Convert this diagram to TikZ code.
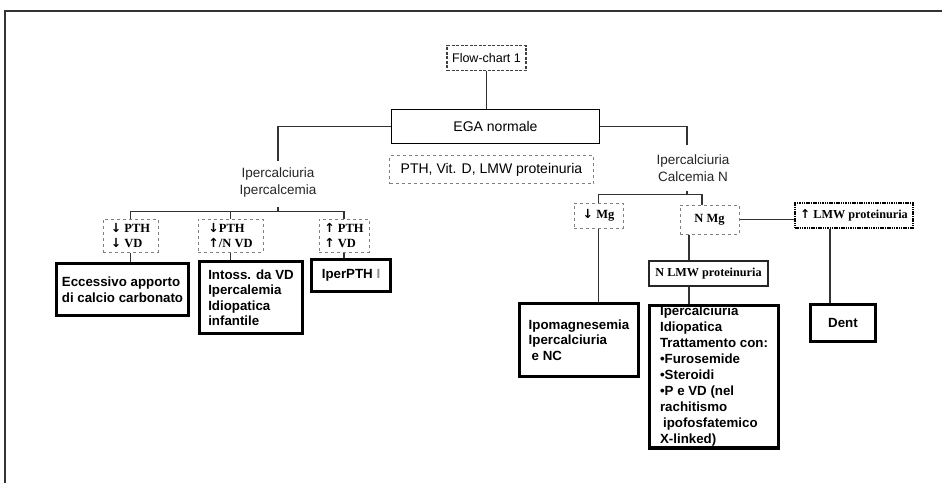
\documentclass[tikz,border=0pt]{standalone}
\usepackage{fontspec}
\setmainfont{Liberation Sans}
\newfontfamily\serifbf{Liberation Serif}
\newfontfamily\arrf{DejaVu Sans}
\newcommand{\dn}{{\arrf\bfseries ↓}}
\newcommand{\upa}{{\arrf\bfseries ↑}}
\begin{document}
\begin{tikzpicture}[x=1pt,y=-1pt,
 conn/.style={draw=black!80,line width=1.3pt},
 lbl/.style={font=\fontsize{13.5}{17}\selectfont,text=black!85,align=center,inner sep=0pt},
 bbox/.style={draw=black,line width=3.6pt,font=\bfseries\fontsize{13.3}{15.5}\selectfont,align=left,inner sep=3pt},
 sbox/.style={draw=black!50,dashed,line width=1pt,font=\serifbf\bfseries\fontsize{12.5}{14.5}\selectfont,align=left,inner sep=1.5pt},
]
\useasboundingbox (0,0) rectangle (942,483);
\fill[white] (0,0) rectangle (942,483);
% frame
\draw[line width=1.3pt,black!80] (5,483) -- (5,11) -- (942,11);

% top
\node[draw=black!75,line width=1.6pt,dash pattern=on 3pt off 1.5pt,minimum width=79pt,minimum height=25pt,font=\fontsize{12.5}{14}\selectfont,inner sep=1pt] (flow) at (486.5,58) {Flow-chart 1};
\node[draw=black,line width=1.5pt,minimum width=208pt,minimum height=34pt,font=\fontsize{14}{16}\selectfont] (ega) at (495.5,126.5) {EGA normale};
\node[draw=black!50,dashed,line width=1.2pt,minimum width=204pt,minimum height=28pt,font=\fontsize{14}{16}\selectfont,inner sep=1pt] (ptx) at (491.5,169.5) {PTH, Vit. D, LMW proteinuria};
\node[lbl] (lL) at (278,183) {Ipercalciuria\\Ipercalcemia};
\node[lbl] (lR) at (693,168) {Ipercalciuria\\Calcemia N};

\draw[conn] (flow.south) -- (flow.south |- ega.north);
\draw[conn] (ega.west) -| ([yshift=7pt]lL.north);
\draw[conn] (ega.east) -| ([xshift=-6pt,yshift=9pt]lR.north);

% left subtree
\node[sbox,minimum width=55pt,minimum height=33pt] (b1) at (130.5,235.5) {\dn\ PTH\\\dn\ VD};
\node[sbox,minimum width=65pt,minimum height=33pt] (b2) at (230.5,235.5) {\dn PTH\\\upa/N VD};
\node[sbox,minimum width=50pt,minimum height=33pt] (b3) at (344,235.5) {\upa\ PTH\\\upa\ VD};
\draw[conn] (b1.north) -- ++(0,-7) -| (b3.north);
\draw[conn] (b2.north) -- ++(0,-7);
\draw[conn] ([yshift=-9pt]lL.south) -- ++(0,4);

\node[bbox,minimum width=132pt,minimum height=52pt] (A) at (122.5,289.5) {Eccessivo apporto\\di calcio carbonato};
\node[bbox,minimum width=103pt,minimum height=72pt] (B) at (251,297.5) {Intoss. da VD\\Ipercalemia\\Idiopatica\\infantile};
\node[bbox,minimum width=79pt,minimum height=32pt] (C) at (351,275.5) {IperPTH {\color{black!45}I}};
\draw[conn] (b1.south) -- (b1.south |- A.north);
\draw[conn] (b2.south) -- (b2.south |- B.north);
\draw[conn] (b3.south) -- (b3.south |- C.north);

% right subtree
\node[sbox,minimum width=49pt,minimum height=25pt] (mg1) at (598.5,215.5) {\dn\ Mg};
\node[sbox,minimum width=59pt,minimum height=29pt] (mg2) at (709.5,219.5) {N Mg};
\node[sbox,draw=black,dash pattern=on 1.5pt off 0.8pt,line width=1.8pt,minimum width=118pt,minimum height=25pt,font=\serifbf\bfseries\fontsize{12.2}{13}\selectfont] (lmw) at (854,215.5) {\upa\ LMW proteinuria};
\draw[conn] (mg1.north) -- ++(0,-8) -| ([xshift=-7.5pt]mg2.north);
\draw[conn] ([xshift=-6pt,yshift=-9pt]lR.south) -- ++(0,3);
\draw[conn] (mg2.east) -- (mg2.east -| lmw.west);

\node[sbox,draw=black!85,solid,line width=1.6pt,minimum width=119pt,minimum height=25pt,font=\serifbf\bfseries\fontsize{12.2}{13}\selectfont] (nlmw) at (708.5,273.5) {N LMW proteinuria};
\draw[conn] ([xshift=-20.5pt]mg2.south) -- ([xshift=-20.5pt]mg2.south |- nlmw.north);

\node[bbox,minimum width=119pt,minimum height=73pt] (ipo) at (579,340) {Ipomagnesemia\\Ipercalciuria\\\hspace{3pt}e NC};
\node[bbox,minimum width=129pt,minimum height=142pt,font=\bfseries\fontsize{13.3}{16}\selectfont,inner sep=1pt] (idio) at (714,376.5) {Ipercalciuria\\Idiopatica\\Trattamento con:\\•Furosemide\\•Steroidi\\•P e VD (nel\\rachitismo\\\hspace{3pt}ipofosfatemico\\X-linked)};
\node[bbox,minimum width=65pt,minimum height=37pt] (dent) at (843,323) {Dent};
\draw[conn] (mg1.south) -- (mg1.south |- ipo.north);
\draw[conn] ([xshift=-19.5pt]nlmw.south) -- ([xshift=-19.5pt]nlmw.south |- idio.north);
\draw[conn] ([xshift=-24pt]lmw.south) -- ([xshift=-24pt]lmw.south |- dent.north);
\end{tikzpicture}
\end{document}
